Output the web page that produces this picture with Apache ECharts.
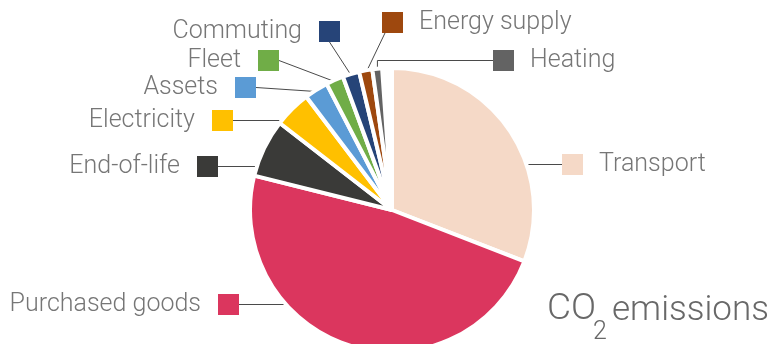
<!DOCTYPE html>
<html>
<head>
<meta charset="utf-8">
<script src="https://cdn.jsdelivr.net/npm/echarts@6/dist/echarts.min.js"></script>
<style>
  html, body { margin: 0; padding: 0; background: #fff; }
  #chart { width: 772px; height: 344px; }
</style>
</head>
<body>
<div id="chart"></div>
<script>
// CO2 emissions by source (share of total, %)
const categories = ['Transport', 'Purchased goods', 'End-of-life', 'Electricity', 'Assets', 'Fleet', 'Commuting', 'Energy supply', 'Heating'];
const emissions = [30.9, 48.0, 6.6, 4.2, 2.7, 2.0, 1.9, 1.5, 1.1];
const sliceColors = ['#F5D9C7', '#DB365E', '#3A3A38', '#FFC000', '#5B9BD5', '#70AD47', '#264478', '#9E480E', '#636363'];

// Pie geometry
const CX = 392, CY = 210, RADIUS = 142, BORDER = 4;
const START_ANGLE = 90, SWEEP = 356;

// Label placement: which side the key square sits on, key square top-left,
// where the leader line leaves the square and how it reaches the slice
const KEY = 21;
const labelSpots = {
  'Transport':       { side: 'right', x: 562, y: 154, anchor: 'left',       leader: 'level' },
  'Purchased goods': { side: 'left',  x: 218, y: 294, anchor: 'right',      leader: 'level' },
  'End-of-life':     { side: 'left',  x: 197, y: 156, anchor: 'right',      leader: 'level' },
  'Electricity':     { side: 'left',  x: 212, y: 110, anchor: 'right',      leader: 'level' },
  'Assets':          { side: 'left',  x: 235, y: 77,  anchor: 'right',      leader: 'mid' },
  'Fleet':           { side: 'left',  x: 258, y: 50,  anchor: 'right',      leader: 'mid' },
  'Commuting':       { side: 'left',  x: 319, y: 21,  anchor: 'bottom',     leader: 'mid' },
  'Energy supply':   { side: 'right', x: 382, y: 12,  anchor: 'bottomLeft', leader: 'mid' },
  'Heating':         { side: 'right', x: 493, y: 50,  anchor: 'left',       leader: 'elbow' }
};

const total = emissions.reduce((a, b) => a + b, 0);

// angular range [end, start] of slice i in degrees (counter-clockwise from east)
function sliceRange(i) {
  let before = 0;
  for (let k = 0; k < i; k++) before += emissions[k];
  const s = START_ANGLE - before / total * SWEEP;
  const e = s - emissions[i] / total * SWEEP;
  return [e, s];
}

function arcPoint(deg) {
  const R = RADIUS - BORDER / 2;
  const a = deg * Math.PI / 180;
  return [CX + R * Math.cos(a), CY - R * Math.sin(a)];
}

function anchorPoint(spot) {
  switch (spot.anchor) {
    case 'left': return [spot.x, spot.y + KEY / 2];
    case 'right': return [spot.x + KEY, spot.y + KEY / 2];
    case 'bottom': return [spot.x + KEY / 2, spot.y + KEY];
    default: return [spot.x + 3, spot.y + KEY];
  }
}

function leaderPoints(i, spot) {
  const [e, s] = sliceRange(i);
  const p = anchorPoint(spot);
  const R = RADIUS - BORDER / 2;
  if (spot.leader === 'level') {
    const dy = CY - p[1];
    if (Math.abs(dy) < R) {
      const a1 = Math.asin(dy / R) * 180 / Math.PI;
      let a = spot.side === 'left' ? 180 - a1 : a1;
      for (const cand of [a, a - 360, a + 360]) {
        if (cand >= e && cand <= s) return [arcPoint(cand), p];
      }
    }
  }
  const q = arcPoint((e + s) / 2);
  if (spot.leader === 'elbow') return [q, [q[0], p[1]], p];
  return [q, p];
}

const rich = {
  tl: { fontFamily: 'Roboto', fontWeight: 300, fontSize: 25, color: '#767676', lineHeight: 30, padding: [0, 17, 0, 0] },
  tr: { fontFamily: 'Roboto', fontWeight: 300, fontSize: 25, color: '#767676', lineHeight: 30, padding: [0, 0, 0, 16] }
};
sliceColors.forEach((c, i) => {
  rich['k' + i] = { width: KEY, height: KEY, backgroundColor: c };
});

const chart = echarts.init(document.getElementById('chart'), null, { renderer: 'canvas' });

const titleStyle = { fontFamily: 'Roboto', fontWeight: 300, fill: '#686868', verticalAlign: 'middle' };

chart.setOption({
  animation: false,
  backgroundColor: '#ffffff',
  series: [{
    type: 'pie',
    center: [CX, CY],
    radius: RADIUS,
    startAngle: START_ANGLE,
    endAngle: START_ANGLE - SWEEP,
    clockwise: true,
    avoidLabelOverlap: false,
    data: categories.map((name, i) => ({ name, value: emissions[i], itemStyle: { color: sliceColors[i] } })),
    itemStyle: { borderColor: '#ffffff', borderWidth: BORDER },
    emphasis: { disabled: true },
    label: {
      show: true,
      position: 'outside',
      formatter: p => labelSpots[p.name].side === 'left'
        ? '{tl|' + p.name + '}{k' + p.dataIndex + '|}'
        : '{k' + p.dataIndex + '|}{tr|' + p.name + '}',
      rich
    },
    labelLine: {
      show: true,
      lineStyle: { color: '#4a4a4a', width: 1 }
    },
    labelLayout: params => {
      const i = params.dataIndex;
      const spot = labelSpots[categories[i]];
      return {
        x: spot.side === 'left' ? spot.x + KEY : spot.x,
        y: spot.y + KEY / 2,
        align: spot.side === 'left' ? 'right' : 'left',
        verticalAlign: 'middle',
        labelLinePoints: leaderPoints(i, spot)
      };
    }
  }],
  // chart title "CO2 emissions" with subscript 2, bottom right
  graphic: [
    { type: 'text', x: 547, y: 310, style: Object.assign({ text: 'CO', fontSize: 37 }, titleStyle) },
    { type: 'text', x: 593, y: 333, style: Object.assign({ text: '2', fontSize: 25 }, titleStyle) },
    { type: 'text', x: 612, y: 311, style: Object.assign({ text: 'emissions', fontSize: 35 }, titleStyle) }
  ]
});
</script>
</body>
</html>
